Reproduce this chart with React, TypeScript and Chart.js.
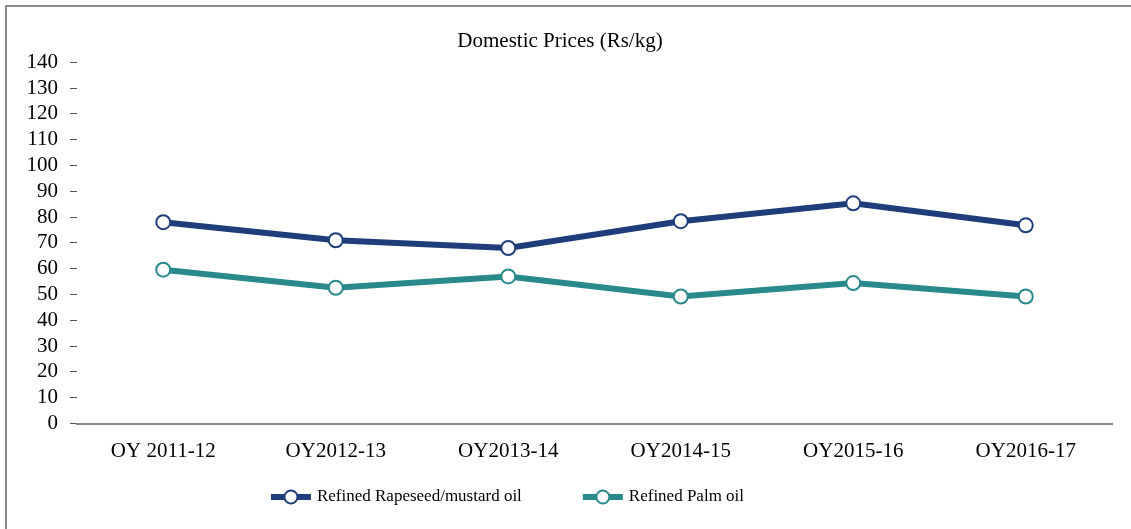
import React, { useEffect, useRef } from 'react';
import { Chart, registerables } from 'chart.js';

Chart.register(...registerables);

const categories = ['OY 2011-12', 'OY2012-13', 'OY2013-14', 'OY2014-15', 'OY2015-16', 'OY2016-17'];
const rapeseedValues = [78, 71, 68, 78.4, 85.3, 76.8];
const palmValues = [59.6, 52.6, 57, 49.2, 54.4, 49.2];
const seriesNames = ['Refined Rapeseed/mustard oil', 'Refined Palm oil'];
const seriesColors = ['#1F3D7A', '#2A898B'];
const yMin = 0;
const yMax = 140;
const yStep = 10;
const titleText = 'Domestic Prices (Rs/kg)';

const FONT = '"Liberation Serif", "Times New Roman", serif';

const legendPlugin = {
  id: 'customLegend',
  afterDraw(chart: any) {
    const ctx = chart.ctx as CanvasRenderingContext2D;
    ctx.save();
    ctx.font = `17px ${FONT}`;
    const sampleW = 40;
    const gapText = 6;
    const itemGap = 61;
    const dsets = chart.data.datasets;
    const widths = dsets.map((ds: any) => sampleW + gapText + ctx.measureText(ds.label).width);
    const total = widths.reduce((a: number, b: number) => a + b, 0) + itemGap * (widths.length - 1);
    let x = 507.5 - total / 2;
    const y = 497;
    dsets.forEach((ds: any, i: number) => {
      ctx.strokeStyle = ds.borderColor;
      ctx.lineWidth = 6;
      ctx.beginPath();
      ctx.moveTo(x, y);
      ctx.lineTo(x + sampleW, y);
      ctx.stroke();
      ctx.beginPath();
      ctx.arc(x + sampleW / 2, y, 6.5, 0, Math.PI * 2);
      ctx.fillStyle = '#ffffff';
      ctx.fill();
      ctx.lineWidth = 2;
      ctx.stroke();
      ctx.fillStyle = '#000000';
      ctx.textBaseline = 'middle';
      ctx.textAlign = 'left';
      ctx.fillText(ds.label, x + sampleW + gapText, y);
      x += widths[i] + itemGap;
    });
    ctx.restore();
  },
};

export default function App() {
  const canvasRef = useRef<HTMLCanvasElement | null>(null);

  useEffect(() => {
    if (!canvasRef.current) return;
    const series = [rapeseedValues, palmValues];
    const chart = new Chart(canvasRef.current, {
      type: 'line',
      data: {
        labels: categories,
        datasets: series.map((vals, i) => ({
          label: seriesNames[i],
          data: vals,
          borderColor: seriesColors[i],
          backgroundColor: seriesColors[i],
          borderWidth: 6,
          tension: 0,
          pointRadius: 7,
          pointHoverRadius: 7,
          pointBorderWidth: 2,
          pointBackgroundColor: '#ffffff',
          pointBorderColor: seriesColors[i],
          fill: false,
        })),
      },
      options: {
        responsive: false,
        animation: false,
        layout: { padding: { left: 8, right: 19, top: 0, bottom: 50 } },
        plugins: {
          legend: { display: false },
          tooltip: { enabled: false },
          title: {
            display: true,
            text: titleText,
            color: '#000000',
            font: { family: FONT, size: 21, weight: 'normal' },
            padding: { top: 29, bottom: 8 },
          },
        },
        scales: {
          x: {
            offset: true,
            grid: { display: false, drawTicks: false },
            border: { display: true, color: '#868686', width: 2 },
            ticks: {
              color: '#000000',
              font: { family: FONT, size: 21 },
              padding: 15,
              maxRotation: 0,
              autoSkip: false,
            },
            afterFit: (scale: any) => {
              scale.height = 55.5;
            },
          },
          y: {
            min: yMin,
            max: yMax,
            grid: {
              drawOnChartArea: false,
              drawTicks: true,
              tickLength: 7,
              color: '#555555',
              lineWidth: 1,
            },
            border: { display: false },
            ticks: {
              stepSize: yStep,
              autoSkip: false,
              color: '#000000',
              font: { family: FONT, size: 21 },
              padding: 12,
            },
            afterFit: (scale: any) => {
              scale.width = 69;
            },
          },
        },
      },
      plugins: [legendPlugin],
    });
    return () => chart.destroy();
  }, []);

  return (
    <div style={{ position: 'fixed', left: 0, top: 0, width: 1131, height: 529, background: '#ffffff', overflow: 'hidden' }}>
      <div
        style={{
          position: 'absolute',
          left: 5,
          top: 5,
          right: 0,
          bottom: 0,
          borderLeft: '2px solid #8a8a8a',
          borderTop: '2px solid #8a8a8a',
        }}
      />
      <canvas ref={canvasRef} width={1131} height={529} style={{ position: 'absolute', left: 0, top: 0 }} />
    </div>
  );
}
